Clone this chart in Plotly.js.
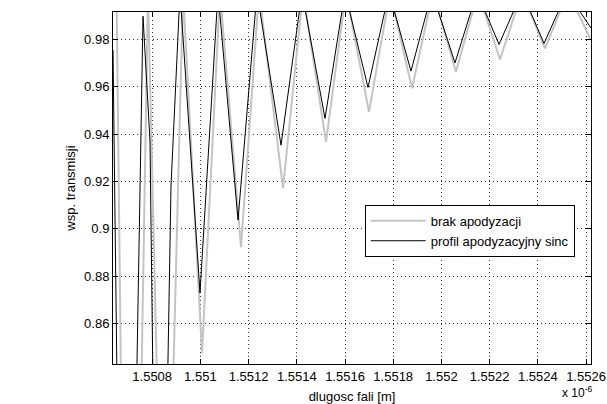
<!DOCTYPE html>
<html><head><meta charset="utf-8">
<script src="https://cdn.plot.ly/plotly-3.0.1.min.js"></script>
<style>
html,body{margin:0;padding:0;background:#fff}
</style>
</head><body><div id="chart" style="width:607px;height:404px"></div>
<script>
// wavelength in units of 1e-6 m
const wavelengthBrak = [1.5506374, 1.550652, 1.5506748, 1.550708, 1.5507495, 1.5507826, 1.5508283, 1.5508532, 1.5508781, 1.5509279, 1.5510067, 1.5510814, 1.5511685, 1.5512432, 1.5513428, 1.5514257, 1.5515212, 1.5516041, 1.5516996, 1.5517867, 1.551878, 1.5519651, 1.5520605, 1.5521518, 1.5522431, 1.5523344, 1.5524298, 1.5525252, 1.5526207];
const transBrak = [1.0, 1.0, 0.80, 0.60, 0.80, 1.0, 0.80, 0.65, 0.80, 1.0, 0.8474, 1.0, 0.8922, 1.0, 0.9172, 1.0, 0.9367, 1.0, 0.9494, 1.0, 0.9593, 1.0, 0.9663, 1.0, 0.9715, 1.0, 0.9762, 1.0, 0.9797];

const wavelengthSinc = [1.5506374, 1.5506582, 1.5506955, 1.5507287, 1.5507619, 1.5507909, 1.5508075, 1.5508324, 1.5508594, 1.5508781, 1.5509154, 1.5509984, 1.5510731, 1.5511561, 1.5512349, 1.5513345, 1.5514216, 1.551517, 1.5516, 1.5516954, 1.5517826, 1.5518738, 1.551961, 1.5520564, 1.5521477, 1.552239, 1.5523344, 1.5524257, 1.5525211, 1.5526207];
const transSinc = [0.9755, 0.80, 0.60, 0.80, 0.9898, 0.937, 0.80, 0.65, 0.80, 0.918, 1.0, 0.8728, 1.0, 0.9036, 1.0, 0.9353, 1.0, 0.9466, 1.0, 0.9597, 1.0, 0.9666, 1.0, 0.9701, 1.0, 0.9779, 1.0, 0.9783, 1.0, 0.9848];

const seriesNames = ["brak apodyzacji", "profil apodyzacyjny sinc"];
const xTickVals = [1.5508, 1.5510, 1.5512, 1.5514, 1.5516, 1.5518, 1.5520, 1.5522, 1.5524, 1.5526];
const xTickText = ["1.5508", "1.551", "1.5512", "1.5514", "1.5516", "1.5518", "1.552", "1.5522", "1.5524", "1.5526"];
const yTickVals = [0.86, 0.88, 0.90, 0.92, 0.94, 0.96, 0.98];
const yTickText = ["0.86", "0.88", "0.9", "0.92", "0.94", "0.96", "0.98"];
const xRange = [1.5506374, 1.5526207];
const yRange = [0.8428, 0.9916];

const FONT = "Liberation Sans, Arial, Helvetica, sans-serif";

const traces = [
  {x: wavelengthBrak, y: transBrak, name: seriesNames[0], type: "scatter", mode: "lines",
   line: {color: "#c4c4c4", width: 2}},
  {x: wavelengthSinc, y: transSinc, name: seriesNames[1], type: "scatter", mode: "lines",
   line: {color: "#000000", width: 1}}
];

const axisCommon = {
  showline: true, linecolor: "#000", linewidth: 1, mirror: "ticks",
  ticks: "inside", ticklen: 5, tickcolor: "#000", tickwidth: 1,
  showgrid: true, gridcolor: "#333", gridwidth: 1, griddash: "1px,3px",
  zeroline: false, tickfont: {family: FONT, size: 13, color: "#000"}
};

const layout = {
  width: 607, height: 404,
  margin: {l: 113, r: 16, t: 12, b: 40},
  paper_bgcolor: "#fff", plot_bgcolor: "#fff",
  font: {family: FONT, size: 13, color: "#000"},
  showlegend: true,
  legend: {x: 0.966, xanchor: "right", y: 0.452, yanchor: "top",
    bgcolor: "#fff", bordercolor: "#000", borderwidth: 1, itemwidth: 55,
    font: {family: FONT, size: 13, color: "#000"}, tracegroupgap: 0},
  xaxis: Object.assign({}, axisCommon, {
    range: xRange, tickmode: "array", tickvals: xTickVals, ticktext: xTickText,
    title: {text: "dlugosc fali [m]", font: {family: FONT, size: 13, color: "#000"}, standoff: 9}
  }),
  yaxis: Object.assign({}, axisCommon, {
    range: yRange, tickmode: "array", tickvals: yTickVals, ticktext: yTickText,
    title: {text: "wsp. transmisji", font: {family: FONT, size: 13, color: "#000"}, standoff: 5}
  }),
  annotations: [{
    xref: "paper", yref: "paper", x: 1.006, y: -0.052, xanchor: "right", yanchor: "top",
    text: "x 10<sup>-6</sup>", showarrow: false, font: {family: FONT, size: 12, color: "#000"}
  }]
};

Plotly.newPlot("chart", traces, layout, {displayModeBar: false, staticPlot: true});
</script>
</body></html>
